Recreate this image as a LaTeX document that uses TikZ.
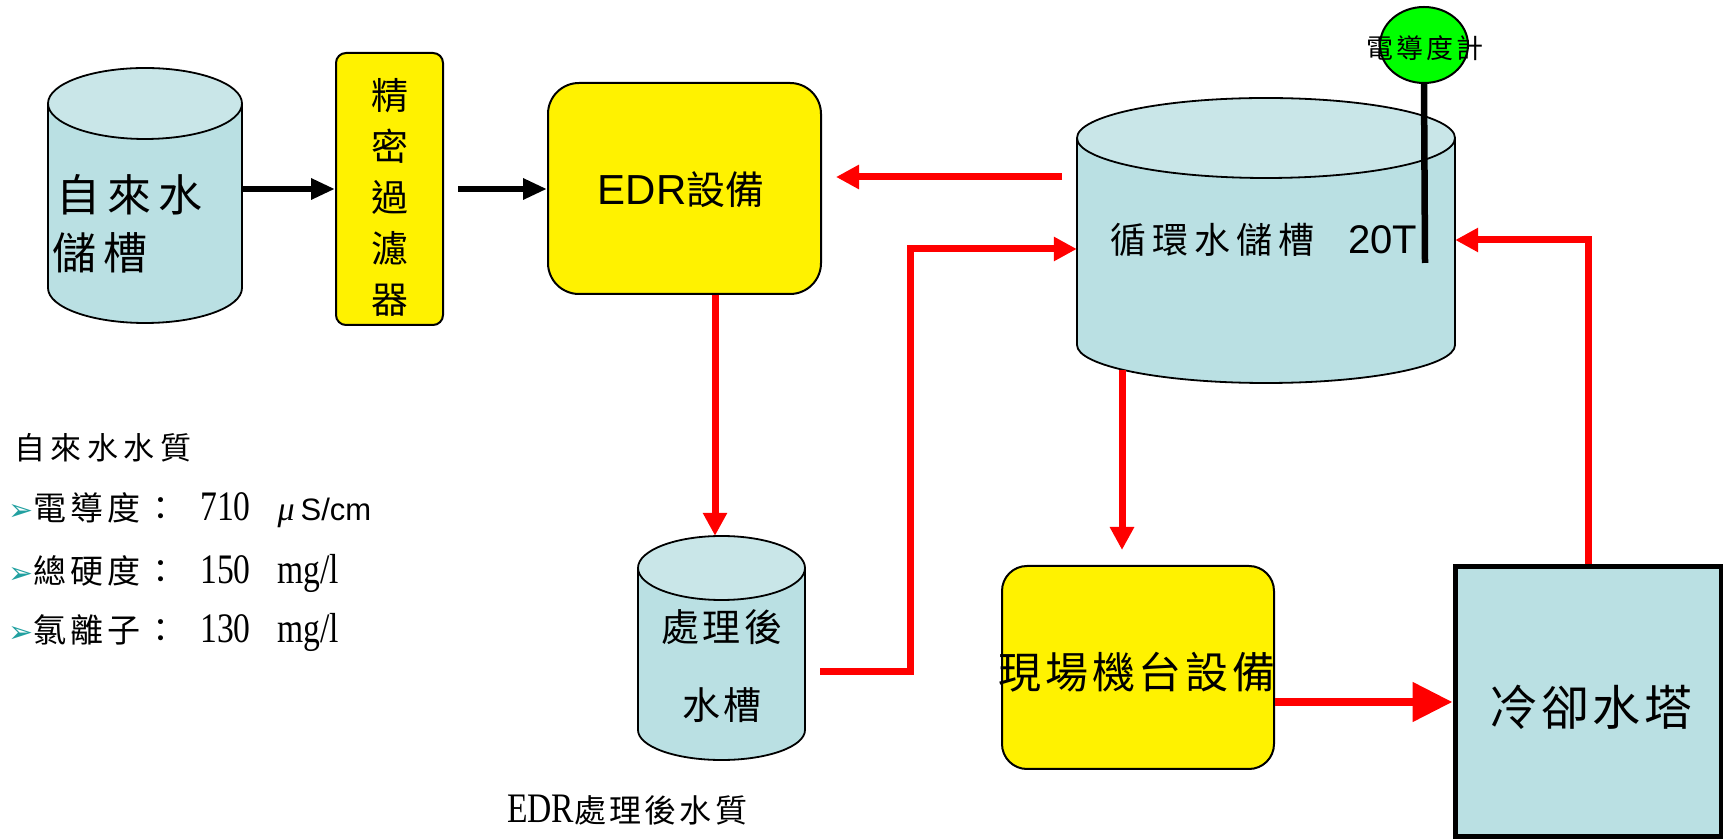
\documentclass[tikz,border=0pt]{standalone}
\usepackage{fontspec}
\usetikzlibrary{arrows.meta,shapes.geometric,calc}
\newfontfamily\cjk{Noto Sans CJK TC}
\newfontfamily\arialf{Liberation Sans}
\newfontfamily\serf{Liberation Serif}
\newfontfamily\serfn[FakeStretch=0.8]{Liberation Serif}
\newfontfamily\djf{DejaVu Sans}
\definecolor{tankbody}{RGB}{186,224,227}
\definecolor{tanktop}{RGB}{201,230,232}
\definecolor{bulletc}{RGB}{33,160,160}
\definecolor{meterg}{RGB}{0,255,0}
\newcommand\lsp[1]{\addfontfeature{LetterSpace=#1}}
\newcommand\fs[1]{\fontsize{#1}{#1}\selectfont}
\newcommand\drawtank[6]{%
  \pgfmathsetmacro\cxx{(#1+#2)/2}%
  \pgfmathsetmacro\rxx{(#2-#1)/2}%
  \fill[tankbody] (#1,#3) -- (#1,#4) arc[start angle=180,end angle=360,x radius=\rxx,y radius=#6] -- (#2,#3) -- cycle;
  \draw[line width=1.8pt] (#1,#3) -- (#1,#4) arc[start angle=180,end angle=360,x radius=\rxx,y radius=#6] -- (#2,#3);
  \filldraw[fill=tanktop,line width=1.8pt] (\cxx,#3) ellipse[x radius=\rxx,y radius=#5];
}
\begin{document}
\begin{tikzpicture}[x=1pt,y=1pt,
  txt/.style={inner sep=0pt, text=black},
  ghost/.style={inner sep=0pt, draw=none},
  ybox/.style={draw=black, line width=2pt, fill=yellow, inner sep=0pt},
  blk/.style={line width=6pt, -{Triangle[length=24pt,width=20pt]}},
  ra/.style={draw=red, line width=7pt, line join=miter, -{Triangle[length=23pt,width=23pt]}, red},
  rabig/.style={draw=red, line width=8pt, -{Triangle[length=40pt,width=38pt]}, red},
  bul/.style={}
]
\useasboundingbox (0,0) rectangle (1723,840);

% tanks
\drawtank{48}{242}{736.5}{552}{35.5}{35}
\drawtank{1077}{1455}{702}{495}{40}{38}
\drawtank{638}{805}{272}{110}{32}{30}
\node[ghost, minimum width=194pt, minimum height=255pt] (t1) at (145,644.5) {};
\node[ghost, minimum width=378pt, minimum height=286pt] (t2) at (1266,600) {};
\node[ghost, minimum width=167pt, minimum height=224pt] (t3) at (721.5,192) {};

% boxes
\node[ybox, rounded corners=10pt, minimum width=107pt, minimum height=272pt] (filt) at (389.5,651) {};
\node[ybox, rounded corners=31pt, minimum width=273pt, minimum height=211pt] (edr) at (684.5,651.5) {};
\node[ybox, rounded corners=25pt, minimum width=272pt, minimum height=203pt] (site) at (1138,172.5) {};
\node[draw=black, line width=5pt, fill=tankbody, inner sep=0pt, minimum width=266pt, minimum height=270pt] (ct) at (1588,138) {};

% meter
\node[ellipse, draw=black, line width=2pt, fill=meterg, minimum width=88pt, minimum height=76pt, inner sep=0pt] (meter) at (1424,795) {};
\coordinate (probe) at (1425,577);
\draw[line width=6.5pt] (meter.south) -- (probe);

% texts
\node[txt, anchor=west] (t1a) at (56,645) {\cjk\fs{44}\lsp{16}自來水};
\node[txt, anchor=west] (t1b) at (52,587) {\cjk\fs{44}\lsp{16}儲槽};
\node[txt, align=center, font=\cjk\fontsize{37}{51}\selectfont] (filttxt) at (390,642.5) {精\\密\\過\\濾\\器};
\node[txt] (edrtxt) at (681,650) {{\arialf\fs{42}EDR}{\cjk\fs{39}設備}};
\node[txt, anchor=west] (t2txt) at (1110,600) {\makebox[238pt][l]{\cjk\fs{36}\lsp{17}循環水儲槽}{\arialf\fs{40}20T}};
\node[txt] (t3a) at (722,213) {\cjk\fs{38}\lsp{10}處理後};
\node[txt] (t3b) at (722,135) {\cjk\fs{38}\lsp{10}水槽};
\node[txt] (sitetxt) at (1137,168) {\cjk\fs{43}\lsp{9}現場機台設備};
\node[txt] (cttxt) at (1591,133) {\cjk\fs{48}\lsp{8}冷卻水塔};
\node[txt] (metertxt) at (1425,792) {\cjk\fs{27}\lsp{10}電導度計};
\node[txt, anchor=west] (edrq) at (507,30) {{\serfn\fs{42}EDR}{\cjk\fs{32}\lsp{10}處理後水質}};

\node[txt, anchor=west] (wq) at (14,392) {\cjk\fs{31}\lsp{18}自來水水質};
\node[txt, anchor=west] (b1) at (8,330) {\makebox[25pt][l]{\djf\fs{30}\textcolor{bulletc}{➢}}\makebox[167pt][l]{\cjk\fs{33}\lsp{12}電導度：}{\serfn\fs{42}710}\hspace{27pt}{\serf\itshape\fs{34}μ}\hspace{6pt}{\arialf\fs{31}S/cm}};
\node[txt, anchor=west] (b2) at (8,267) {\makebox[25pt][l]{\djf\fs{30}\textcolor{bulletc}{➢}}\makebox[167pt][l]{\cjk\fs{33}\lsp{12}總硬度：}{\serfn\fs{42}150}\hspace{27pt}{\serfn\fs{42}mg/l}};
\node[txt, anchor=west] (b3) at (8,208) {\makebox[25pt][l]{\djf\fs{30}\textcolor{bulletc}{➢}}\makebox[167pt][l]{\cjk\fs{33}\lsp{12}氯離子：}{\serfn\fs{42}130}\hspace{27pt}{\serfn\fs{42}mg/l}};

% connectors
\draw[blk] (t1.east |- filt.west) -- (filt.west);
\draw[blk] ([xshift=14pt]filt.east) -- (filt.east -| edr.west);

\coordinate (r1s) at (1062,663);
\draw[ra, shorten >=14pt] (r1s) -- (r1s -| edr.east);
\coordinate (r2s) at (715,545);
\draw[ra] (r2s) -- (r2s |- t3.north);
\coordinate (r3s) at (820,168);
\draw[ra] (r3s) -- (910,168) -- (910,591) -- (t2.west |- 910,591);
\coordinate (r4s) at (1122,470);
\draw[ra, shorten >=15pt] (r4s) -- (r4s |- site.north);
\draw[rabig] (site.east |- ct.west) -- (ct.west);
\draw[ra] (ct.north) |- (t2.east);
\end{tikzpicture}
\end{document}
